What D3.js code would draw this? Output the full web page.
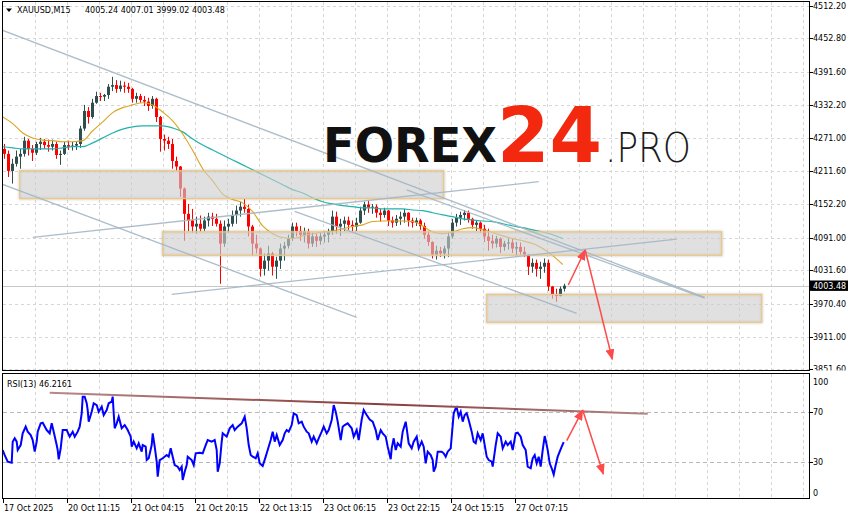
<!DOCTYPE html>
<html><head><meta charset="utf-8">
<script src="https://cdn.jsdelivr.net/npm/d3@7"></script>
<style>body{margin:0;background:#fff}svg{display:block}text{font-family:"DejaVu Sans",sans-serif}</style>
</head><body>
<svg id="c" width="854" height="520"></svg>
<script>
// ---------- DATA ----------
const symbolLabel = "XAUUSD,M15";
const lastBarOHLC = ["4005.24","4007.01","3999.02","4003.48"];
const bidPrice = 4003.48;
// hourly OHLC candles (each spans 4 M15 bars)
const candles = [
[4252,4261,4234,4243],[4243,4249,4201,4212],[4212,4234,4189,4225],[4225,4249,4220,4238],[4238,4252,4216,4243],
[4243,4274,4238,4267],[4267,4270,4240,4252],[4252,4259,4230,4245],[4245,4265,4241,4261],[4261,4272,4250,4265],
[4265,4270,4252,4259],[4259,4269,4247,4256],[4256,4269,4249,4261],[4261,4265,4234,4241],[4241,4249,4223,4243],
[4243,4265,4241,4259],[4259,4267,4250,4256],[4256,4265,4249,4258],[4258,4265,4250,4261],[4261,4294,4254,4289],
[4289,4332,4285,4321],[4321,4328,4298,4310],[4310,4343,4307,4336],[4336,4356,4334,4348],[4348,4354,4339,4347],
[4347,4352,4339,4350],[4350,4370,4343,4365],[4365,4383,4357,4368],[4368,4377,4354,4361],[4361,4376,4356,4367],
[4367,4374,4354,4365],[4365,4372,4354,4361],[4361,4363,4336,4343],[4343,4354,4336,4348],[4348,4352,4336,4341],
[4341,4348,4330,4338],[4338,4345,4321,4330],[4330,4348,4325,4343],[4343,4345,4301,4310],[4310,4312,4247,4270],
[4270,4278,4249,4267],[4267,4274,4252,4261],[4261,4270,4216,4230],[4230,4238,4212,4220],[4220,4221,4165,4180],
[4180,4182,4085,4134],[4134,4152,4102,4122],[4122,4143,4100,4111],[4111,4129,4098,4116],[4116,4131,4102,4107],
[4107,4129,4103,4122],[4122,4136,4111,4129],[4129,4136,4112,4125],[4125,4134,4111,4116],[4116,4122,4007,4080],
[4080,4122,4074,4111],[4111,4125,4100,4116],[4116,4140,4111,4132],[4132,4149,4116,4140],[4140,4156,4129,4147],
[4147,4161,4136,4143],[4143,4151,4093,4111],[4111,4114,4058,4080],[4080,4096,4062,4071],[4071,4073,4020,4034],
[4034,4062,4022,4049],[4049,4076,4031,4062],[4062,4065,4022,4038],[4038,4056,4016,4049],[4049,4080,4034,4071],
[4071,4083,4049,4076],[4076,4096,4071,4089],[4089,4118,4085,4111],[4111,4118,4093,4103],[4103,4112,4085,4096],
[4096,4109,4082,4102],[4102,4107,4071,4080],[4080,4100,4074,4093],[4093,4098,4074,4085],[4085,4100,4078,4093],
[4093,4103,4082,4096],[4096,4107,4082,4103],[4103,4140,4096,4129],[4129,4138,4098,4111],[4111,4125,4094,4116],
[4116,4129,4103,4122],[4122,4129,4105,4114],[4114,4122,4102,4111],[4111,4127,4103,4118],[4118,4147,4116,4140],
[4140,4156,4132,4151],[4151,4158,4136,4145],[4145,4152,4134,4147],[4147,4151,4127,4136],[4136,4143,4120,4132],
[4132,4145,4127,4140],[4140,4141,4112,4122],[4122,4129,4109,4118],[4118,4132,4112,4125],[4125,4138,4114,4129],
[4129,4143,4118,4136],[4136,4137,4111,4122],[4122,4127,4109,4118],[4118,4127,4112,4122],[4122,4125,4105,4112],
[4112,4118,4089,4096],[4096,4102,4076,4083],[4083,4084,4053,4060],[4060,4076,4051,4067],[4067,4074,4056,4062],
[4062,4076,4053,4071],[4071,4100,4056,4093],[4093,4125,4089,4118],[4118,4134,4111,4127],[4127,4138,4114,4132],
[4132,4141,4122,4136],[4136,4140,4118,4125],[4125,4127,4107,4114],[4114,4122,4103,4118],[4118,4120,4100,4107],
[4107,4114,4083,4093],[4093,4107,4067,4085],[4085,4096,4071,4080],[4080,4094,4073,4089],[4089,4091,4063,4074],
[4074,4085,4067,4080],[4080,4089,4069,4082],[4082,4089,4063,4071],[4071,4083,4058,4074],[4074,4082,4060,4065],
[4065,4074,4056,4060],[4060,4061,4023,4038],[4038,4053,4027,4045],[4045,4051,4020,4034],[4034,4047,4016,4038],
[4038,4053,4027,4045],[4045,4051,3994,4002],[4002,4003,3980,3987],[3987,3998,3974,3985],[3985,4002,3984,3998],
[3998,4007.01,3993,4003.48]
];
const barsPerCandle = 4;
// moving averages sampled every 10 M15 bars
const maStep = 10;
const maOrange = [4310,4298,4281,4272,4268,4267,4265,4265,4267,4285,4301,4318,4327,4332,4336,4332,4319,4303,4279,4249,
4216,4194,4170,4160,4154,4138,4112,4098,4091,4089,4094,4098,4101,4103,4107,4111,4114,4120,4121,4121,
4121,4120,4112,4101,4098,4101,4107,4109,4105,4100,4094,4089,4085,4080,4071,4058,4042];
const maTeal = [4256,4254,4252,4252,4252,4252,4254,4256,4256,4263,4272,4281,4288,4292,4294,4294,4294,4290,4283,4270,
4259,4250,4241,4232,4223,4214,4205,4196,4187,4178,4172,4163,4156,4152,4149,4147,4145,4145,4143,4143,
4143,4141,4140,4136,4132,4129,4125,4123,4121,4120,4116,4112,4109,4105,4101,4096,4089];
// RSI(13) vertices (bar index, value)
const rsiBars = [0,2,5,9,10,12,14,15,18,20,23,25,28,30,32,34,35,38,40,44,47,49,51,54,55,56,58,60,64,67,70,72,75,77,79,80,82,84,85,86,
89,91,94,96,99,101,104,106,109,110,111,112,114,116,119,122,125,128,129,131,134,136,139,140,143,144,146,149,150,152,154,155,157,160,164,166,168,170,172,175,
177,179,180,182,184,185,189,191,193,197,200,203,205,209,212,214,215,217,219,220,224,227,230,232,235,239,242,244,246,248,250,253,255,257,260,263,265,268,270,272,
274,277,280,282,284,286,289,291,294,296,299,301,304,306,309,311,314,316,319,321,324,326,329,331,333,335,338,340,342,345,349,351,354,356,359,361,364,367,370,373,
375,378,380,383,385,388,389,391,393,395,398,400,403,404,406,409,411,414,416,419,421,423,425,428,430,431,433,435,439,441,443,445,448,450,451,453,454,456,458,460,
462,464,466,469,471,473,475,478,480,482,484,486,489,490,493,495,498,500,503,505,508,510,513,515,518,520,523,525,528,530,532,534,536,538,540,542,544,545,547,549,
551,553,555,557,559,561];
const rsiValues = [39.8,35.8,30.5,29.7,46.5,49.2,46.5,39.8,43.8,53.2,58.5,54.5,51.8,47.8,38.5,46.5,54.5,61.2,61.7,55.8,53.2,61.2,54.5,43.8,39.8,32.4,41.2,55.8,55.8,50.5,54.5,50.5,54.5,58.5,69.2,82.5,82.5,77.2,71.8,62.5,
70.5,77.2,75.8,70.5,74.5,67.8,71.8,77.2,78.5,82.5,69.2,57.2,61.2,66.5,57.2,59.8,55.8,50.5,42.5,46.5,41.2,45.2,38.5,43.8,42.5,31.8,33.2,43.8,53.2,42.5,30.5,18.5,31.8,33.2,35.8,34.5,41.2,34.5,27.8,26.5,
23.8,26.5,15.8,22.5,27.8,34.5,31.8,27.8,37.2,37.7,37.2,43.8,47.8,46.5,47.8,39.8,22.5,29.2,46.5,53.2,50.5,57.2,59.8,55.8,58.5,61.2,66.5,57.2,43.8,35.8,34.5,33.2,37.2,29.2,27,34.5,39.8,47.8,54.5,46.5,
51.8,43.8,47.8,53.2,55.8,54.5,59.8,69.2,67.8,61.2,62.5,58.5,54.5,53.2,46.5,50.5,45.2,49.2,54.5,58.5,53.2,55.8,63.8,75.8,70.5,62.5,47.8,58.5,59.8,61.2,57.2,50.5,55.8,47.8,64.2,71.8,67.8,64.2,62.5,55.8,
47.8,55.8,53.2,50.5,42.5,32.5,41.2,49.2,39.8,45.2,42.5,54.5,62.5,57.2,45.2,41.2,46.5,50.5,41.2,46.5,42.5,29.2,38.5,35.8,31.8,22.5,26.5,38.5,38.5,37.2,34.5,38.5,41.2,59.8,69.2,73.2,74,66.5,70.5,62.5,
67.8,69.2,63.8,54.5,46.5,45.2,53.2,47.8,53.2,43.8,34.5,31.8,30.5,26.5,43.8,53.2,50.5,41.2,46.5,43.8,46.5,39.8,53.2,53.7,50.5,43.8,39.8,26.5,25.2,33.2,35.8,29.2,34.5,26.5,39.8,51,43.8,39.8,29.2,25.2,
20.2,27.8,34.5,38.5,42.5,46.2161];
const rsiLabel = "RSI(13) 46.2161";
// axes
const priceTicks = [4512.20,4452.80,4391.60,4332.20,4271.00,4211.60,4152.20,4091.00,4031.60,3970.40,3911.00,3851.60];
const rsiTicks = [100,70,30,0];
const rsiLevels = [70,30];
const timeLabels = ["17 Oct 2025","20 Oct 11:15","21 Oct 04:15","21 Oct 20:15","22 Oct 13:15","23 Oct 06:15","23 Oct 22:15","24 Oct 15:15","27 Oct 07:15"];
const timeLabelBars = [0,64,128,192,256,320,384,448,512];
// analysis objects (bar index, price)
const zones = [
 {b0:17,b1:441,hi:4212.2,lo:4161.7},
 {b0:160,b1:719,hi:4101.4,lo:4058.7},
 {b0:484,b1:759,hi:3987.5,lo:3937.0}
];
const trendLines = [
 [[-3,4469.3],[702,3982.4]],
 [[-3,4189.5],[354,3946.1]],
 [[30,4091.4],[536,4192.5]],
 [[169,3987.9],[674,4088.0]],
 [[292,4138.7],[574,3953.3]],
 [[404,4177.5],[702,3981.0]]
];
const forecastMain = [[[565.6,4004.8],[582.5,4068.3]],[[582.5,4068.3],[609.6,3869.8]]];
const rsiTrend = [[47,85.7],[645,68.9]];
const forecastRsi = [[[564,47.3],[580,71.8]],[[580,71.8],[600.6,20.6]]];

// ---------- SCALES ----------
const svg = d3.select("#c");
const x = d3.scaleLinear().domain([0,806]).range([2.7,808.7]);
const y = d3.scaleLinear().domain([3911,4512.2]).range([336.6,5.7]);
const yr = d3.scaleLinear().domain([0,100]).range([499.8,374.8]);
const cr = v => Math.round(v) + 0.5;
const MX0 = 2.5, MX1 = 809.5, MY0 = 1.5, MY1 = 370.5, RY0 = 373.5, RY1 = 498.5;

const defs = svg.append("defs");
defs.append("clipPath").attr("id","clipMain").append("rect").attr("x",3).attr("y",2).attr("width",806).attr("height",368);
defs.append("clipPath").attr("id","clipRsi").append("rect").attr("x",3).attr("y",374).attr("width",806).attr("height",124);
defs.append("clipPath").attr("id","clipAxis").append("rect").attr("x",810).attr("y",0).attr("width",44).attr("height",370.5);
const f = defs.append("filter").attr("id","blur").attr("x","-5%").attr("y","-30%").attr("width","110%").attr("height","160%");
f.append("feGaussianBlur").attr("stdDeviation",1.3);
const mk = defs.append("marker").attr("id","ah").attr("markerUnits","userSpaceOnUse").attr("markerWidth",11).attr("markerHeight",9)
  .attr("refX",10).attr("refY",4.5).attr("orient","auto");
mk.append("path").attr("d","M0,0 L11,4.5 L0,9 Z").attr("fill","#ff4a4a");
const gr = defs.append("linearGradient").attr("id","rg").attr("gradientUnits","userSpaceOnUse")
  .attr("x1",x(rsiTrend[0][0])).attr("x2",x(rsiTrend[1][0])).attr("y1",0).attr("y2",0);
gr.append("stop").attr("offset","0").attr("stop-color","#b58a8a");
gr.append("stop").attr("offset","0.55").attr("stop-color","#8a3a3a");
gr.append("stop").attr("offset","1").attr("stop-color","#b08585");

const gridBars = d3.range(32, 806, 32);

// ---------- MAIN PANEL ----------
const gm = svg.append("g").attr("clip-path","url(#clipMain)");
gm.selectAll(".hg").data(priceTicks).join("line")
  .attr("x1",3).attr("x2",809).attr("y1",d=>cr(y(d))).attr("y2",d=>cr(y(d)))
  .attr("stroke","#d6d6d6").attr("stroke-dasharray","3,3").attr("shape-rendering","crispEdges");
gm.selectAll(".vg").data(gridBars).join("line")
  .attr("x1",d=>cr(x(d))).attr("x2",d=>cr(x(d))).attr("y1",2).attr("y2",370)
  .attr("stroke","#d6d6d6").attr("stroke-dasharray","3,3").attr("shape-rendering","crispEdges");
// bid line
gm.append("line").attr("x1",3).attr("x2",809).attr("y1",cr(y(bidPrice))).attr("y2",cr(y(bidPrice)))
  .attr("stroke","#c8c8c8").attr("shape-rendering","crispEdges");

// candles
const cg = gm.append("g");
candles.forEach((c,i)=>{
  const left = Math.round(x(i*barsPerCandle));
  const up = c[3] >= c[0];
  const col = up ? "#2f4f4f" : "#ff0000";
  cg.append("rect").attr("x",left+1).attr("width",1).attr("y",y(c[1])).attr("height",Math.max(1,y(c[2])-y(c[1]))).attr("fill",col);
  const top = y(Math.max(c[0],c[3])), bot = y(Math.min(c[0],c[3]));
  cg.append("rect").attr("x",left).attr("width",3).attr("y",top).attr("height",Math.max(1,bot-top)).attr("fill",col);
});

// moving averages
const maLine = d3.line().x((d,i)=>x(i*maStep)).y(d=>y(d)).curve(d3.curveMonotoneX);
gm.append("path").datum(maTeal).attr("d",maLine).attr("fill","none").attr("stroke","#20b2aa").attr("stroke-width",1.2);
gm.append("path").datum(maOrange).attr("d",maLine).attr("fill","none").attr("stroke","#daa520").attr("stroke-width",1.1);

// zones: soft shadow outline, translucent fill, orange border
gm.selectAll(".zsh").data(zones).join("rect")
  .attr("x",d=>x(d.b0)).attr("width",d=>x(d.b1)-x(d.b0))
  .attr("y",d=>y(d.hi)).attr("height",d=>y(d.lo)-y(d.hi))
  .attr("fill","none").attr("stroke","#9a9a9a").attr("stroke-opacity",0.45).attr("stroke-width",2.2).attr("filter","url(#blur)");
gm.selectAll(".zone").data(zones).join("rect")
  .attr("x",d=>x(d.b0)).attr("width",d=>x(d.b1)-x(d.b0))
  .attr("y",d=>y(d.hi)).attr("height",d=>y(d.lo)-y(d.hi))
  .attr("fill","#cdcdcd").attr("fill-opacity",0.62)
  .attr("stroke","#f0c679").attr("stroke-width",1.1);

// trend lines
gm.selectAll(".tl").data(trendLines).join("line")
  .attr("x1",d=>x(d[0][0])).attr("y1",d=>y(d[0][1])).attr("x2",d=>x(d[1][0])).attr("y2",d=>y(d[1][1]))
  .attr("stroke","#a3b6c4").attr("stroke-width",1.3).attr("stroke-opacity",0.9);

// logo
const logo = gm.append("g");
logo.append("text").attr("x",323).attr("y",161.7).attr("font-family","Inter, Lato, 'Open Sans', sans-serif").attr("font-weight",900)
  .attr("font-size",48).attr("fill","#111").attr("textLength",174).attr("lengthAdjust","spacingAndGlyphs").text("FOREX");
logo.append("text").attr("x",497).attr("y",161.7).attr("font-family","Inter, Lato, 'Open Sans', sans-serif").attr("font-weight",900)
  .attr("font-size",76).attr("fill","#f2290f").attr("textLength",105).attr("lengthAdjust","spacingAndGlyphs").text("24");
logo.append("text").attr("x",605).attr("y",161.7).attr("font-family","Lato, Inter, 'Open Sans', sans-serif").attr("font-weight",300)
  .attr("font-size",40).attr("fill","#1a1a1a").attr("textLength",86).attr("lengthAdjust","spacingAndGlyphs").text(".PRO");

// forecast arrows main
gm.selectAll(".fa").data(forecastMain).join("line")
  .attr("x1",d=>x(d[0][0])).attr("y1",d=>y(d[0][1])).attr("x2",d=>x(d[1][0])).attr("y2",d=>y(d[1][1]))
  .attr("stroke","#ff4a4a").attr("stroke-width",1.5).attr("marker-end","url(#ah)");

// header
svg.append("path").attr("d","M6,8.5 L12,8.5 L9,12 Z").attr("fill","#000");
svg.append("text").attr("x",17).attr("y",12.7).attr("font-size",8).text(symbolLabel);
svg.append("text").attr("x",85).attr("y",12.7).attr("font-size",8).text(lastBarOHLC.join(" "));

// ---------- RSI PANEL ----------
const gs = svg.append("g").attr("clip-path","url(#clipRsi)");
gs.selectAll(".vg").data(gridBars).join("line")
  .attr("x1",d=>cr(x(d))).attr("x2",d=>cr(x(d))).attr("y1",374).attr("y2",498)
  .attr("stroke","#d6d6d6").attr("stroke-dasharray","3,3").attr("shape-rendering","crispEdges");
gs.selectAll(".lv").data(rsiLevels).join("line")
  .attr("x1",3).attr("x2",809).attr("y1",d=>cr(yr(d))).attr("y2",d=>cr(yr(d)))
  .attr("stroke","#b9b9b9").attr("stroke-dasharray","4,3").attr("shape-rendering","crispEdges");
const rsiLine = d3.line().x(d=>x(d[0])).y(d=>yr(d[1]));
gs.append("path").datum(rsiBars.map((b,i)=>[b,rsiValues[i]])).attr("d",rsiLine)
  .attr("fill","none").attr("stroke","#0000ff").attr("stroke-width",2).attr("stroke-linejoin","miter");
gs.append("line").attr("x1",x(rsiTrend[0][0])).attr("y1",yr(rsiTrend[0][1])).attr("x2",x(rsiTrend[1][0])).attr("y2",yr(rsiTrend[1][1]))
  .attr("stroke","url(#rg)").attr("stroke-width",2);
gs.selectAll(".fr").data(forecastRsi).join("line")
  .attr("x1",d=>x(d[0][0])).attr("y1",d=>yr(d[0][1])).attr("x2",d=>x(d[1][0])).attr("y2",d=>yr(d[1][1]))
  .attr("stroke","#ff4a4a").attr("stroke-width",1.5).attr("marker-end","url(#ah)");
svg.append("text").attr("x",7).attr("y",387).attr("font-size",8).text(rsiLabel);

// ---------- FRAMES & AXES ----------
const fr = svg.append("g").attr("fill","none").attr("stroke","#000").attr("shape-rendering","crispEdges");
fr.append("rect").attr("x",MX0).attr("y",MY0).attr("width",MX1-MX0).attr("height",MY1-MY0);
fr.append("rect").attr("x",MX0).attr("y",RY0).attr("width",MX1-MX0).attr("height",RY1-RY0);

// price axis
const pa = svg.append("g").attr("clip-path","url(#clipAxis)");
priceTicks.forEach(p=>{
  const yy = cr(y(p));
  pa.append("line").attr("x1",809.5).attr("x2",812.5).attr("y1",yy).attr("y2",yy).attr("stroke","#000").attr("shape-rendering","crispEdges");
  pa.append("text").attr("x",813).attr("y",y(p)+3).attr("font-size",8).text(p.toFixed(2));
});
const by = y(bidPrice);
svg.append("rect").attr("x",810).attr("y",by-5.2).attr("width",38).attr("height",10.4).attr("fill","#000");
svg.append("text").attr("x",813).attr("y",by+3).attr("font-size",8).attr("fill","#fff").text(bidPrice.toFixed(2));

// rsi axis
rsiTicks.forEach(v=>{
  const yy = Math.min(Math.max(yr(v),382),493);
  if (v>0 && v<100) svg.append("line").attr("x1",809.5).attr("x2",812.5).attr("y1",cr(yr(v))).attr("y2",cr(yr(v))).attr("stroke","#000").attr("shape-rendering","crispEdges");
  svg.append("text").attr("x",813).attr("y",yy+3).attr("font-size",8).text(v);
});

// time axis
timeLabelBars.forEach((b,i)=>{
  const xx = cr(x(b));
  svg.append("line").attr("x1",xx).attr("x2",xx).attr("y1",498.5).attr("y2",502.5).attr("stroke","#000").attr("shape-rendering","crispEdges");
  svg.append("text").attr("x",xx+0.5).attr("y",511).attr("font-size",8).text(timeLabels[i]);
});
</script>
</body></html>
